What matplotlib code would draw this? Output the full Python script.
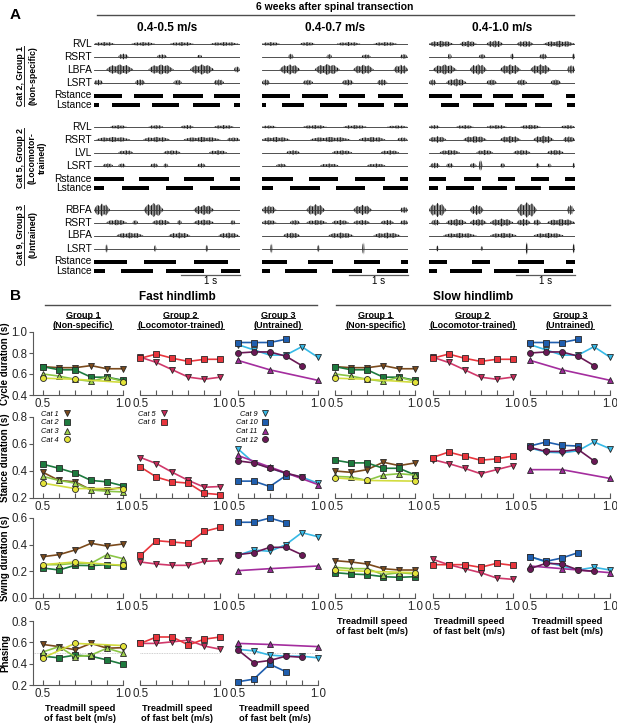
import matplotlib
matplotlib.use("Agg")
import matplotlib.pyplot as plt
from matplotlib.lines import Line2D
import matplotlib.transforms as mtransforms

W, H = 617, 724
plt.rcParams['font.family'] = ['Liberation Sans', 'DejaVu Sans']
plt.rcParams['hatch.linewidth'] = 0.6

# ---------------- Panel A data: EMG bursts (start s, end s, amplitude) -----
speed_titles = ['0.4-0.5 m/s', '0.4-0.7 m/s', '0.4-1.0 m/s']
group_a_lines = [['Cat 2, Group 1', '(Non-specific)'],
                 ['Cat 5, Group 2', '(Locomotor-', 'trained)'],
                 ['Cat 9, Group 3', '(Untrained)']]
muscles = [['RVL', 'RSRT', 'LBFA', 'LSRT'],
           ['RVL', 'RSRT', 'LVL', 'LSRT'],
           ['RBFA', 'RSRT', 'LBFA', 'LSRT']]

g1_bursts = [
    [[(0.0, 0.35, .3), (0.63, 1.03, .3), (1.28, 1.68, .3), (1.96, 2.44, .3)],
     [(0.41, 0.58, .45), (1.06, 1.23, .35), (1.74, 1.82, .3)],
     [(0.21, 0.66, .8), (0.92, 1.34, .8), (1.62, 2.02, .8), (2.36, 2.46, .5)],
     [(0.0, 0.15, .45), (0.69, 0.86, .5), (1.34, 1.48, .45), (2.02, 2.19, .5)]],
    [[(0.0, 0.30, .3), (0.64, 0.89, .3), (1.26, 1.66, .3), (1.88, 2.28, .3)],
     [(0.44, 0.53, .45), (1.09, 1.18, .4), (1.68, 1.83, .35), (2.33, 2.45, .4)],
     [(0.30, 0.64, .8), (0.89, 1.31, .85), (1.54, 1.88, .75), (2.22, 2.46, .75)],
     [(0.0, 0.13, .5), (0.69, 0.86, .45), (1.35, 1.54, .5), (1.94, 2.11, .5)]],
    [[(0.0, 0.41, .5), (0.52, 0.80, .5), (0.97, 1.25, .55), (1.48, 1.76, .5), (1.93, 2.46, .5)],
     [(0.32, 0.38, .5), (0.84, 0.95, .4), (1.37, 1.43, .5), (1.86, 1.99, .45), (2.41, 2.46, .5)],
     [(0.07, 0.46, .8), (0.69, 0.97, .85), (1.20, 1.54, .8), (1.71, 2.05, .8), (2.33, 2.46, .7)],
     [(0.0, 0.12, .5), (0.29, 0.63, .6), (0.97, 1.14, .5), (1.48, 1.65, .5), (2.05, 2.22, .5)]],
]
g2_bursts = [
    [[(0.27, 0.55, .3), (0.92, 1.17, .3), (1.46, 1.68, .3), (2.02, 2.36, .3)],
     [(0.04, 0.61, .4), (0.83, 1.28, .4), (1.51, 2.13, .4), (2.24, 2.46, .35)],
     [(0.41, 0.66, .35), (1.17, 1.46, .35), (1.94, 2.24, .35)],
     [(0.15, 0.32, .35), (0.41, 0.53, .35), (0.95, 1.08, .35), (1.17, 1.25, .35), (1.74, 1.88, .35)]],
    [[(0.0, 0.24, .25), (0.69, 1.09, .3), (1.37, 1.77, .3), (2.11, 2.45, .25)],
     [(0.0, 0.47, .4), (0.81, 1.49, .4), (1.63, 2.08, .4), (2.28, 2.45, .35)],
     [(0.41, 0.64, .35), (1.18, 1.52, .35), (2.00, 2.31, .35)],
     [(0.24, 0.41, .3), (0.98, 1.29, .3), (1.77, 2.08, .3)]],
    [[(0.0, 0.18, .3), (0.46, 0.75, .3), (0.97, 1.31, .3), (1.54, 1.88, .35), (2.22, 2.46, .3)],
     [(0.0, 0.29, .5), (0.58, 0.97, .55), (1.20, 1.54, .55), (1.76, 2.10, .6), (2.26, 2.46, .5)],
     [(0.18, 0.52, .4), (0.80, 1.08, .4), (1.42, 1.71, .4), (1.99, 2.27, .4)],
     [(0.02, 0.18, .45), (0.29, 0.41, .4), (0.69, 0.80, .4), (0.84, 0.90, .9), (1.20, 1.28, .4),
      (1.80, 1.86, .4), (2.00, 2.06, .35), (2.42, 2.46, .45)]],
]
g3_bursts = [
    [[(0.0, 0.27, 1.0), (0.84, 1.17, 1.1), (1.68, 2.02, .8)],
     [(0.21, 0.55, .45), (0.65, 0.74, .4), (0.98, 1.28, .45), (1.40, 1.48, .4), (1.68, 2.02, .45), (2.30, 2.38, .4)],
     [(0.38, 0.83, .45), (1.26, 1.62, .45), (2.10, 2.44, .45)],
     [(0.19, 0.23, .7), (1.01, 1.05, .6), (1.88, 1.92, .6)]],
    [[(0.0, 0.24, .7), (0.75, 1.06, .9), (1.54, 1.85, .8), (2.33, 2.46, .5)],
     [(0.0, 0.24, .4), (0.47, 0.64, .4), (0.75, 1.09, .4), (1.18, 1.46, .4), (1.54, 1.82, .4),
      (2.00, 2.22, .4), (2.33, 2.46, .4)],
     [(0.36, 0.64, .45), (1.12, 1.54, .45), (1.88, 2.33, .45)],
     [(0.14, 0.18, .8), (0.93, 0.97, .6), (1.69, 1.73, 1.0)]],
    [[(0.0, 0.29, 1.1), (0.69, 0.92, .8), (1.48, 1.82, 1.2), (2.33, 2.44, .8)],
     [(0.04, 0.18, .5), (0.29, 0.63, .55), (0.69, 0.97, .55), (1.03, 1.42, .6), (1.48, 1.71, .55),
      (1.76, 1.88, .5), (1.99, 2.46, .55)],
     [(0.24, 0.80, .4), (1.03, 1.48, .4), (1.76, 2.27, .4)],
     [(0.12, 0.16, .5), (0.87, 0.91, .4), (1.63, 1.67, 1.0), (2.42, 2.46, .8)]],
]
emg_bursts = [g1_bursts, g2_bursts, g3_bursts]

r_stance = [
    [[(0, 0.47), (0.67, 1.16), (1.33, 1.83), (2.02, 2.46)],
     [(0, 0.47), (0.67, 1.12), (1.29, 1.74), (1.95, 2.38)],
     [(0, 0.38), (0.53, 0.89), (1.07, 1.42), (1.56, 1.93), (2.30, 2.46)]],
    [[(0, 0.50), (0.76, 1.26), (1.51, 2.02), (2.29, 2.46)],
     [(0, 0.52), (0.80, 1.28), (1.57, 2.07), (2.33, 2.46)],
     [(0, 0.29), (0.59, 0.88), (1.16, 1.45), (1.72, 2.02), (2.29, 2.46)]],
    [[(0, 0.55), (0.84, 1.38), (1.68, 2.26)],
     [(0, 0.42), (0.78, 1.20), (1.55, 1.99), (2.35, 2.46)],
     [(0, 0.31), (0.73, 1.03), (1.50, 1.93), (2.31, 2.46)]],
]
l_stance = [
    [[(0, 0.08), (0.31, 0.77), (0.98, 1.44), (1.67, 2.12), (2.36, 2.46)],
     [(0, 0.07), (0.33, 0.70), (0.98, 1.43), (1.61, 2.05), (2.22, 2.46)],
     [(0.21, 0.51), (0.74, 1.09), (1.28, 1.65), (1.79, 2.07), (2.33, 2.46)]],
    [[(0, 0.17), (0.47, 0.93), (1.21, 1.67), (1.96, 2.46)],
     [(0, 0.19), (0.47, 0.97), (1.25, 1.74), (2.04, 2.46)],
     [(0, 0.15), (0.29, 0.75), (0.89, 1.31), (1.45, 1.89), (2.03, 2.46)]],
    [[(0, 0.18), (0.45, 1.00), (1.21, 1.86), (2.14, 2.46)],
     [(0, 0.14), (0.38, 0.92), (1.18, 1.69), (1.93, 2.46)],
     [(0, 0.14), (0.36, 0.90), (1.09, 1.68), (1.93, 2.42)]],
]

# ---------------- Panel B data ----------------------------------------------
speed_full = [0.5, 0.6, 0.7, 0.8, 0.9, 1.0]
speed_sparse = [0.5, 0.7, 1.0]
speed_to08 = [0.5, 0.6, 0.7, 0.8]
speed_to09 = [0.5, 0.6, 0.7, 0.8, 0.9]

cat_speeds = {1: speed_full, 2: speed_full, 3: speed_full, 4: speed_sparse,
              5: speed_full, 6: speed_full,
              9: speed_full, 10: speed_to08, 11: speed_sparse, 12: speed_to09}

cycle = {1: [0.67, 0.66, 0.66, 0.68, 0.65, 0.65],
         2: [0.67, 0.64, 0.64, 0.57, 0.57, 0.54],
         3: [0.60, 0.58, 0.55, 0.53, 0.57, 0.53],
         4: [0.56, 0.55, 0.52],
         5: [0.76, 0.71, 0.64, 0.57, 0.55, 0.57],
         6: [0.75, 0.79, 0.75, 0.72, 0.74, 0.74],
         9: [0.88, 0.83, 0.78, 0.78, 0.86, 0.76],
         10: [0.90, 0.90, 0.90, 0.93],
         11: [0.73, 0.64, 0.54],
         12: [0.80, 0.81, 0.81, 0.77, 0.68]}

stance_fast = {1: [0.39, 0.33, 0.32, 0.26, 0.26, 0.28],
               2: [0.45, 0.42, 0.385, 0.33, 0.32, 0.29],
               3: [0.36, 0.33, 0.31, 0.26, 0.25, 0.245],
               4: [0.31, 0.27, 0.27],
               5: [0.50, 0.455, 0.39, 0.33, 0.28, 0.285],
               6: [0.43, 0.355, 0.32, 0.31, 0.235, 0.225],
               9: [0.565, 0.46, 0.425, 0.38, 0.355, 0.31],
               10: [0.325, 0.325, 0.285, 0.365],
               11: [0.515, 0.43, 0.30],
               12: [0.475, 0.46, 0.42, 0.385, 0.355]}

stance_slow = {1: [0.40, 0.39, 0.41, 0.465, 0.44, 0.46],
               2: [0.48, 0.46, 0.46, 0.42, 0.42, 0.37],
               3: [0.36, 0.355, 0.33, 0.37, 0.38, 0.37],
               4: [0.35, 0.33, 0.325],
               5: [0.485, 0.455, 0.42, 0.38, 0.41, 0.44],
               6: [0.50, 0.54, 0.51, 0.48, 0.49, 0.51],
               9: [0.57, 0.54, 0.535, 0.55, 0.615, 0.565],
               10: [0.585, 0.615, 0.59, 0.585],
               11: [0.41, 0.41, 0.345],
               12: [0.575, 0.545, 0.545, 0.56, 0.475]}

swing_fast = {1: [0.31, 0.325, 0.36, 0.41, 0.39, 0.405],
              2: [0.225, 0.21, 0.245, 0.243, 0.25, 0.243],
              3: [0.25, 0.25, 0.26, 0.26, 0.325, 0.295],
              4: [0.25, 0.27, 0.245],
              5: [0.27, 0.255, 0.245, 0.245, 0.275, 0.28],
              6: [0.32, 0.43, 0.42, 0.41, 0.50, 0.53],
              9: [0.32, 0.36, 0.35, 0.40, 0.49, 0.46],
              10: [0.568, 0.568, 0.60, 0.565],
              11: [0.205, 0.22, 0.24],
              12: [0.325, 0.34, 0.38, 0.38, 0.325]}

swing_slow = {1: [0.28, 0.27, 0.255, 0.22, 0.21, 0.21],
              2: [0.19, 0.18, 0.175, 0.16, 0.155, 0.16],
              3: [0.23, 0.22, 0.22, 0.175, 0.19, 0.18],
              4: [0.21, 0.20, 0.19],
              5: [0.29, 0.25, 0.22, 0.19, 0.15, 0.14],
              6: [0.25, 0.25, 0.25, 0.23, 0.26, 0.245],
              9: [0.31, 0.27, 0.24, 0.21, 0.23, 0.21],
              10: [0.31, 0.275, 0.30, 0.34],
              11: [0.24, 0.22, 0.19],
              12: [0.22, 0.26, 0.255, 0.21, 0.20]}

phasing_fast = {1: [0.58, 0.56, 0.53, 0.59, 0.545, 0.55],
                2: [0.47, 0.455, 0.48, 0.47, 0.435, 0.395],
                3: [0.51, 0.56, 0.465, 0.48, 0.545, 0.50],
                4: [0.455, 0.59, 0.57],
                5: [0.59, 0.59, 0.605, 0.62, 0.565, 0.535],
                6: [0.59, 0.65, 0.65, 0.575, 0.63, 0.65],
                9: [0.535, 0.52, 0.48, 0.47, 0.47, 0.455],
                10: [0.23, 0.255, 0.395, 0.325],
                11: [0.59, 0.58, 0.56],
                12: [0.53, 0.41, 0.43, 0.47, 0.46]}

group_cats = [[1, 2, 3, 4], [5, 6], [9, 10, 11, 12]]
group_titles = [('Group 1', '(Non-specific)'),
                ('Group 2', '(Locomotor-trained)'),
                ('Group 3', '(Untrained)')]

# styles
cat_color = {1: '#7b4a1c', 2: '#1d7a3e', 3: '#9ccf4c', 4: '#e3e33a',
             5: '#c72a5a', 6: '#e8353c', 9: '#36b9e6', 10: '#1f5eae',
             11: '#9a2a96', 12: '#6a1856'}
cat_line = {1: '#7b4a1c', 2: '#1d7a3e', 3: '#8cc646', 4: '#d2dc3e',
            5: '#d0386a', 6: '#e8353c', 9: '#36b9e6', 10: '#1f5eae',
            11: '#a42d9e', 12: '#6a1856'}
cat_marker = {1: 'v', 2: 's', 3: '^', 4: 'o', 5: 'v', 6: 's',
              9: 'v', 10: 's', 11: '^', 12: 'o'}
marker_size = {'v': 4.6, '^': 4.6, 's': 3.9, 'o': 4.3}

fig = plt.figure(figsize=(W / 100, H / 100), dpi=100)


def px_axes(left, top, width, height):
    return fig.add_axes([left / W, 1 - (top + height) / H, width / W, height / H])


def ftext(x, y, s, **kw):
    return fig.text(x / W, 1 - y / H, s, **kw)


def fline(x0, x1, y0, y1, **kw):
    fig.add_artist(Line2D([x0 / W, x1 / W], [1 - y0 / H, 1 - y1 / H], **kw))


# ================= Panel A =================
T_END = 2.46
col_left = [94, 262, 429]
group_top = [44, 127, 210]
row_off = [0, 12.5, 25.5, 38.5, 51.5, 61]
AMP = 6.5
# envelope profile of a burst (fraction of width, fraction of amplitude)
prof_x = [0, 0.1, 0.22, 0.35, 0.5, 0.62, 0.75, 0.88, 1]
prof_y = [0.05, 0.45, 0.8, 0.55, 1.0, 0.6, 0.85, 0.4, 0.05]

ftext(10, 15, 'A', fontsize=11, fontweight='bold', va='center')
ftext(335, 7, '6 weeks after spinal transection', fontsize=7.5,
      fontweight='bold', ha='center', va='center')
fline(97, 574, 15, 15, color='0.3', lw=1.0)

underline_texts = []
for g in range(3):
    for c in range(3):
        ax = px_axes(col_left[c], group_top[g] - 9, 146, 80)
        ax.set_xlim(0, T_END)
        ax.set_ylim(71, -9)
        ax.axis('off')
        for m in range(4):
            y = row_off[m]
            ax.plot([0, T_END], [y, y], color='0.2', lw=0.6)
            for t0, t1, a in emg_bursts[g][c][m]:
                w = t1 - t0
                xs = [t0 + f * w for f in prof_x]
                env = [p * a * AMP for p in prof_y]
                ax.fill_between(xs, [y - e for e in env], [y + e for e in env],
                                facecolor='0.6', edgecolor='0.0', hatch='||||||',
                                linewidth=0)
            if c == 0:
                ax.text(-0.015, y, muscles[g][m], fontsize=7.3, ha='right',
                        va='center', transform=mtransforms.blended_transform_factory(
                            ax.transAxes, ax.transData))
        for k, segs in enumerate([r_stance[g][c], l_stance[g][c]]):
            y = row_off[4 + k]
            ax.broken_barh([(s0, s1 - s0) for s0, s1 in segs], (y - 2, 4),
                           facecolor='k', edgecolor='none')
            if c == 0:
                ax.text(-0.015, y, ['Rstance', 'Lstance'][k], fontsize=7.3,
                        ha='right', va='center',
                        transform=mtransforms.blended_transform_factory(
                            ax.transAxes, ax.transData))
        if g == 0:
            ax.text(0.5, -16, speed_titles[c], fontsize=8.5, fontweight='bold',
                    ha='center', va='center', transform=mtransforms.blended_transform_factory(
                        ax.transAxes, ax.transData))
        if g == 2:
            ax.plot([T_END - 1, T_END], [64.5, 64.5], color='0.35', lw=0.9,
                    clip_on=False)
            ax.text(T_END - 0.5, 71.5, '1 s', fontsize=7, ha='center',
                    va='center')

# group labels (vertical)
label_x = [[21, 33], [21, 32, 42], [21, 33]]
label_y = [76, 158, 235]
for g in range(3):
    for k, s in enumerate(group_a_lines[g]):
        t = ftext(label_x[g][k], label_y[g], s, fontsize=6.3, fontweight='bold',
                  rotation=90, ha='center', va='center')
        if k == 0:
            underline_texts.append((t, 'v'))

# ================= Panel B =================
ftext(10, 296, 'B', fontsize=11, fontweight='bold', va='center')
ftext(177, 297, 'Fast hindlimb', fontsize=8.5, fontweight='bold', ha='center', va='center')
fline(45, 317, 305, 305, color='0.3', lw=1.0)
ftext(473, 297, 'Slow hindlimb', fontsize=8.5, fontweight='bold', ha='center', va='center')
fline(336, 610, 305, 305, color='0.3', lw=1.0)

ax_left = [43 + 97.4 * i - 9.6 for i in range(6)]
AX_W = 92.8
row_top = [332, 417, 518, 621]
row_h = [63, 81, 80, 64]
row_lim = [(0.4, 1.0), (0.2, 0.8), (0.0, 0.6), (0.2, 0.8)]
row_label = ['Cycle duration (s)', 'Stance duration (s)', 'Swing duration (s)', 'Phasing']
fast_data = [cycle, stance_fast, swing_fast, phasing_fast]
slow_data = [cycle, stance_slow, swing_slow]

xlabel = 'Treadmill speed\nof fast belt (m/s)'

for col in range(6):
    grp = col % 3
    data_rows = fast_data if col < 3 else slow_data
    for r, data in enumerate(data_rows):
        ax = px_axes(ax_left[col], row_top[r], AX_W, row_h[r])
        ax.set_xlim(0.44, 1.02)
        ax.set_ylim(*row_lim[r])
        ax.patch.set_alpha(0)
        for sp in ['top', 'right']:
            ax.spines[sp].set_visible(False)
        ax.spines['bottom'].set_color('0.35')
        ax.spines['left'].set_color('0.35')
        ax.spines['bottom'].set_bounds(0.44 if col == 0 else 0.5, 1.0)
        ax.set_xticks([0.5, 1.0])
        ax.set_xticklabels(['0.5', '1.0'])
        ax.set_xticks([0.6, 0.7, 0.8, 0.9], minor=True)
        ax.tick_params(axis='x', which='both', direction='in', length=3.5,
                       width=0.8, color='0.35', labelsize=8.3, pad=2,
                       labelcolor='0.15')
        if col == 0:
            lo, hi = row_lim[r]
            ticks = [lo, lo + 0.2, lo + 0.4, hi]
            ax.set_yticks(ticks)
            ax.set_yticklabels(['%.1f' % v for v in ticks])
            ax.tick_params(axis='y', direction='out', length=3, width=0.8,
                           color='0.35', labelsize=8.3, pad=1.5, labelcolor='0.15')
            ax.set_ylabel(row_label[r], fontsize=7, fontweight='bold')
            ax.yaxis.set_label_coords(-0.25, 0.5)
        else:
            ax.spines['left'].set_visible(False)
            ax.tick_params(axis='y', left=False, labelleft=False)
        if r == 3:
            ax.plot([0.44 if col == 0 else 0.5, 1.0], [0.5, 0.5], color='0.75',
                    lw=0.6, ls=(0, (1, 1)), zorder=1)
        for cat in group_cats[grp]:
            ax.plot(cat_speeds[cat], data[cat], color=cat_line[cat], lw=1.2,
                    marker=cat_marker[cat], markersize=marker_size[cat_marker[cat]],
                    markerfacecolor=cat_color[cat], markeredgecolor='0.15',
                    markeredgewidth=0.6, clip_on=False, zorder=3)
        if r == 0:
            xc = ax_left[col] + 9.6 + 40
            t1 = ftext(xc, 315, group_titles[grp][0], fontsize=6.5,
                       fontweight='bold', ha='center', va='center')
            t2 = ftext(xc, 326, group_titles[grp][1], fontsize=6.5,
                       fontweight='bold', ha='center', va='center')
            underline_texts.append((t1, 'h'))
            underline_texts.append((t2, 'h'))
        if r == 1 and col < 3:
            handles = [Line2D([], [], ls='none', marker=cat_marker[c],
                              markersize=marker_size[cat_marker[c]],
                              markerfacecolor=cat_color[c], markeredgecolor='0.15',
                              markeredgewidth=0.6) for c in group_cats[grp]]
            ax.legend(handles, ['Cat %d' % c for c in group_cats[grp]],
                      loc='upper left', bbox_to_anchor=(0.08, 1.08),
                      markerfirst=False, frameon=False, handlelength=0.8,
                      handletextpad=0.7, labelspacing=0.22, borderaxespad=0,
                      borderpad=0, prop={'style': 'italic', 'size': 5.3})
        last = (r == 3) if col < 3 else (r == 2)
        if last:
            ax.set_xlabel(xlabel, fontsize=6.7, fontweight='bold', labelpad=3,
                          linespacing=1.1)

# underlines
fig.canvas.draw()
renderer = fig.canvas.get_renderer()
for t, kind in underline_texts:
    bb = t.get_window_extent(renderer)
    if kind == 'h':
        y = bb.y0 + 1.5
        fig.add_artist(Line2D([bb.x0 / W, bb.x1 / W], [y / H, y / H],
                              color='0.15', lw=0.7))
    else:
        x = bb.x1 - 1.5
        fig.add_artist(Line2D([x / W, x / W], [bb.y0 / H, bb.y1 / H],
                              color='0.15', lw=0.7))

fig.savefig('out.png', dpi=100)
